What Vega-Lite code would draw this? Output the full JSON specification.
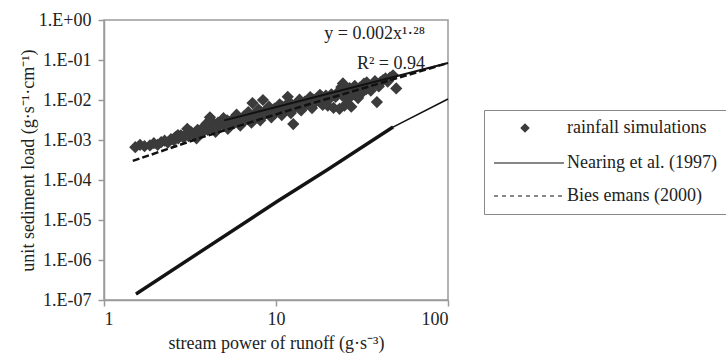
{
  "$schema": "https://vega.github.io/schema/vega-lite/v6.json",
  "width": 344,
  "height": 280,
  "autosize": "none",
  "padding": {"left": 104, "top": 20, "right": 278, "bottom": 56},
  "background": "white",
  "title": {
    "text": "y = 0.002x¹·²⁸",
    "subtitle": "R² = 0.94\u00a0\u00a0\u00a0\u00a0",
    "anchor": "end",
    "frame": "group",
    "orient": "top",
    "offset": -62,
    "dx": -23,
    "font": "Liberation Serif",
    "fontSize": 18,
    "fontWeight": "normal",
    "color": "#222222",
    "subtitleFont": "Liberation Serif",
    "subtitleFontSize": 18,
    "subtitleColor": "#222222",
    "subtitlePadding": 12
  },
  "config": {
    "font": "Liberation Serif",
    "view": {"stroke": "#9a9a9a", "strokeWidth": 1.5},
    "legend": {"labelFont": "Liberation Serif", "labelFontSize": 18, "labelColor": "#222", "titleFont": "Liberation Serif"},
    "axis": {
      "grid": false,
      "domainColor": "#9a9a9a",
      "domainWidth": 1.5,
      "tickColor": "#9a9a9a",
      "tickWidth": 1.5,
      "tickSize": 6,
      "labelFont": "Liberation Serif",
      "labelFontSize": 18,
      "labelColor": "#222",
      "titleFont": "Liberation Serif",
      "titleFontSize": 18,
      "titleFontWeight": "normal",
      "titleColor": "#222"
    }
  },
  "datasets": {
    "pts": [
      {"x": 1.52, "y": 0.00066, "series": "rainfall simulations"},
      {"x": 1.62, "y": 0.00076, "series": "rainfall simulations"},
      {"x": 1.72, "y": 0.0007, "series": "rainfall simulations"},
      {"x": 1.85, "y": 0.00073, "series": "rainfall simulations"},
      {"x": 1.95, "y": 0.00083, "series": "rainfall simulations"},
      {"x": 2.05, "y": 0.00076, "series": "rainfall simulations"},
      {"x": 2.15, "y": 0.00088, "series": "rainfall simulations"},
      {"x": 2.25, "y": 0.00096, "series": "rainfall simulations"},
      {"x": 2.35, "y": 0.00086, "series": "rainfall simulations"},
      {"x": 2.45, "y": 0.00105, "series": "rainfall simulations"},
      {"x": 2.55, "y": 0.00098, "series": "rainfall simulations"},
      {"x": 2.6, "y": 0.00118, "series": "rainfall simulations"},
      {"x": 2.69, "y": 0.00133, "series": "rainfall simulations"},
      {"x": 2.7, "y": 0.0011, "series": "rainfall simulations"},
      {"x": 2.8, "y": 0.0013, "series": "rainfall simulations"},
      {"x": 2.9, "y": 0.00115, "series": "rainfall simulations"},
      {"x": 3.0, "y": 0.0014, "series": "rainfall simulations"},
      {"x": 3.05, "y": 0.0019, "series": "rainfall simulations"},
      {"x": 3.1, "y": 0.00125, "series": "rainfall simulations"},
      {"x": 3.2, "y": 0.0016, "series": "rainfall simulations"},
      {"x": 3.3, "y": 0.0014, "series": "rainfall simulations"},
      {"x": 3.4, "y": 0.00155, "series": "rainfall simulations"},
      {"x": 3.45, "y": 0.0011, "series": "rainfall simulations"},
      {"x": 3.5, "y": 0.0018, "series": "rainfall simulations"},
      {"x": 3.6, "y": 0.0015, "series": "rainfall simulations"},
      {"x": 3.7, "y": 0.0019, "series": "rainfall simulations"},
      {"x": 3.8, "y": 0.0017, "series": "rainfall simulations"},
      {"x": 3.9, "y": 0.0021, "series": "rainfall simulations"},
      {"x": 3.95, "y": 0.0026, "series": "rainfall simulations"},
      {"x": 4.0, "y": 0.0018, "series": "rainfall simulations"},
      {"x": 4.13, "y": 0.0037, "series": "rainfall simulations"},
      {"x": 4.15, "y": 0.0023, "series": "rainfall simulations"},
      {"x": 4.25, "y": 0.0028, "series": "rainfall simulations"},
      {"x": 4.3, "y": 0.0019, "series": "rainfall simulations"},
      {"x": 4.4, "y": 0.0025, "series": "rainfall simulations"},
      {"x": 4.45, "y": 0.0016, "series": "rainfall simulations"},
      {"x": 4.5, "y": 0.0021, "series": "rainfall simulations"},
      {"x": 4.6, "y": 0.0027, "series": "rainfall simulations"},
      {"x": 4.7, "y": 0.0023, "series": "rainfall simulations"},
      {"x": 4.8, "y": 0.0029, "series": "rainfall simulations"},
      {"x": 4.9, "y": 0.0025, "series": "rainfall simulations"},
      {"x": 4.95, "y": 0.0035, "series": "rainfall simulations"},
      {"x": 5.0, "y": 0.0027, "series": "rainfall simulations"},
      {"x": 5.2, "y": 0.0031, "series": "rainfall simulations"},
      {"x": 5.25, "y": 0.0019, "series": "rainfall simulations"},
      {"x": 5.3, "y": 0.0024, "series": "rainfall simulations"},
      {"x": 5.4, "y": 0.0028, "series": "rainfall simulations"},
      {"x": 5.6, "y": 0.0033, "series": "rainfall simulations"},
      {"x": 5.7, "y": 0.0026, "series": "rainfall simulations"},
      {"x": 5.8, "y": 0.0031, "series": "rainfall simulations"},
      {"x": 5.9, "y": 0.0043, "series": "rainfall simulations"},
      {"x": 6.0, "y": 0.0035, "series": "rainfall simulations"},
      {"x": 6.1, "y": 0.0028, "series": "rainfall simulations"},
      {"x": 6.2, "y": 0.0023, "series": "rainfall simulations"},
      {"x": 6.3, "y": 0.0033, "series": "rainfall simulations"},
      {"x": 6.5, "y": 0.0039, "series": "rainfall simulations"},
      {"x": 6.6, "y": 0.0031, "series": "rainfall simulations"},
      {"x": 6.8, "y": 0.0037, "series": "rainfall simulations"},
      {"x": 6.9, "y": 0.005, "series": "rainfall simulations"},
      {"x": 7.0, "y": 0.0043, "series": "rainfall simulations"},
      {"x": 7.1, "y": 0.0034, "series": "rainfall simulations"},
      {"x": 7.2, "y": 0.0027, "series": "rainfall simulations"},
      {"x": 7.3, "y": 0.0084, "series": "rainfall simulations"},
      {"x": 7.4, "y": 0.004, "series": "rainfall simulations"},
      {"x": 7.6, "y": 0.0046, "series": "rainfall simulations"},
      {"x": 7.8, "y": 0.0037, "series": "rainfall simulations"},
      {"x": 7.9, "y": 0.0058, "series": "rainfall simulations"},
      {"x": 8.0, "y": 0.0044, "series": "rainfall simulations"},
      {"x": 8.1, "y": 0.0031, "series": "rainfall simulations"},
      {"x": 8.2, "y": 0.005, "series": "rainfall simulations"},
      {"x": 8.4, "y": 0.01, "series": "rainfall simulations"},
      {"x": 8.5, "y": 0.0042, "series": "rainfall simulations"},
      {"x": 8.7, "y": 0.0054, "series": "rainfall simulations"},
      {"x": 9.0, "y": 0.0047, "series": "rainfall simulations"},
      {"x": 9.1, "y": 0.0068, "series": "rainfall simulations"},
      {"x": 9.2, "y": 0.0058, "series": "rainfall simulations"},
      {"x": 9.4, "y": 0.0037, "series": "rainfall simulations"},
      {"x": 9.5, "y": 0.0051, "series": "rainfall simulations"},
      {"x": 9.8, "y": 0.0061, "series": "rainfall simulations"},
      {"x": 10.0, "y": 0.0049, "series": "rainfall simulations"},
      {"x": 10.3, "y": 0.0064, "series": "rainfall simulations"},
      {"x": 10.5, "y": 0.0078, "series": "rainfall simulations"},
      {"x": 10.6, "y": 0.0055, "series": "rainfall simulations"},
      {"x": 10.8, "y": 0.0042, "series": "rainfall simulations"},
      {"x": 10.9, "y": 0.0068, "series": "rainfall simulations"},
      {"x": 11.2, "y": 0.0059, "series": "rainfall simulations"},
      {"x": 11.5, "y": 0.0073, "series": "rainfall simulations"},
      {"x": 11.7, "y": 0.012, "series": "rainfall simulations"},
      {"x": 11.9, "y": 0.0088, "series": "rainfall simulations"},
      {"x": 12.0, "y": 0.0063, "series": "rainfall simulations"},
      {"x": 12.2, "y": 0.0047, "series": "rainfall simulations"},
      {"x": 12.3, "y": 0.0078, "series": "rainfall simulations"},
      {"x": 12.6, "y": 0.0025, "series": "rainfall simulations"},
      {"x": 12.9, "y": 0.0067, "series": "rainfall simulations"},
      {"x": 13.2, "y": 0.0082, "series": "rainfall simulations"},
      {"x": 13.5, "y": 0.007, "series": "rainfall simulations"},
      {"x": 13.7, "y": 0.0102, "series": "rainfall simulations"},
      {"x": 13.9, "y": 0.0087, "series": "rainfall simulations"},
      {"x": 14.0, "y": 0.0055, "series": "rainfall simulations"},
      {"x": 14.3, "y": 0.0074, "series": "rainfall simulations"},
      {"x": 14.7, "y": 0.0091, "series": "rainfall simulations"},
      {"x": 15.1, "y": 0.0079, "series": "rainfall simulations"},
      {"x": 15.5, "y": 0.0097, "series": "rainfall simulations"},
      {"x": 15.8, "y": 0.0118, "series": "rainfall simulations"},
      {"x": 16.0, "y": 0.0084, "series": "rainfall simulations"},
      {"x": 16.2, "y": 0.0063, "series": "rainfall simulations"},
      {"x": 16.4, "y": 0.0104, "series": "rainfall simulations"},
      {"x": 16.9, "y": 0.0088, "series": "rainfall simulations"},
      {"x": 17.4, "y": 0.0111, "series": "rainfall simulations"},
      {"x": 17.9, "y": 0.0093, "series": "rainfall simulations"},
      {"x": 18.0, "y": 0.0135, "series": "rainfall simulations"},
      {"x": 18.4, "y": 0.0119, "series": "rainfall simulations"},
      {"x": 18.7, "y": 0.0075, "series": "rainfall simulations"},
      {"x": 19.0, "y": 0.0099, "series": "rainfall simulations"},
      {"x": 19.5, "y": 0.0129, "series": "rainfall simulations"},
      {"x": 20.0, "y": 0.0072, "series": "rainfall simulations"},
      {"x": 20.5, "y": 0.0109, "series": "rainfall simulations"},
      {"x": 21.0, "y": 0.0139, "series": "rainfall simulations"},
      {"x": 21.6, "y": 0.0064, "series": "rainfall simulations"},
      {"x": 22.2, "y": 0.0119, "series": "rainfall simulations"},
      {"x": 22.8, "y": 0.0154, "series": "rainfall simulations"},
      {"x": 23.4, "y": 0.006, "series": "rainfall simulations"},
      {"x": 24.0, "y": 0.021, "series": "rainfall simulations"},
      {"x": 24.3, "y": 0.0129, "series": "rainfall simulations"},
      {"x": 24.5, "y": 0.026, "series": "rainfall simulations"},
      {"x": 25.0, "y": 0.0072, "series": "rainfall simulations"},
      {"x": 25.6, "y": 0.0168, "series": "rainfall simulations"},
      {"x": 26.2, "y": 0.0105, "series": "rainfall simulations"},
      {"x": 26.8, "y": 0.0198, "series": "rainfall simulations"},
      {"x": 27.4, "y": 0.0068, "series": "rainfall simulations"},
      {"x": 28.0, "y": 0.0139, "series": "rainfall simulations"},
      {"x": 28.7, "y": 0.0225, "series": "rainfall simulations"},
      {"x": 29.4, "y": 0.0168, "series": "rainfall simulations"},
      {"x": 30.0, "y": 0.0112, "series": "rainfall simulations"},
      {"x": 30.8, "y": 0.0208, "series": "rainfall simulations"},
      {"x": 31.6, "y": 0.0152, "series": "rainfall simulations"},
      {"x": 32.5, "y": 0.0255, "series": "rainfall simulations"},
      {"x": 33.5, "y": 0.0188, "series": "rainfall simulations"},
      {"x": 33.7, "y": 0.0275, "series": "rainfall simulations"},
      {"x": 34.6, "y": 0.0228, "series": "rainfall simulations"},
      {"x": 35.6, "y": 0.0172, "series": "rainfall simulations"},
      {"x": 36.6, "y": 0.0248, "series": "rainfall simulations"},
      {"x": 37.6, "y": 0.0295, "series": "rainfall simulations"},
      {"x": 38.6, "y": 0.0089, "series": "rainfall simulations"},
      {"x": 39.6, "y": 0.0218, "series": "rainfall simulations"},
      {"x": 40.5, "y": 0.0278, "series": "rainfall simulations"},
      {"x": 41.9, "y": 0.0316, "series": "rainfall simulations"},
      {"x": 43.3, "y": 0.0345, "series": "rainfall simulations"},
      {"x": 44.6, "y": 0.0288, "series": "rainfall simulations"},
      {"x": 46.0, "y": 0.0365, "series": "rainfall simulations"},
      {"x": 47.9, "y": 0.0415, "series": "rainfall simulations"},
      {"x": 50.0, "y": 0.0195, "series": "rainfall simulations"}
    ],
    "nearingThick": [
      {"x": 1.535, "y": 1.41e-7},
      {"x": 10.14, "y": 2.9e-5},
      {"x": 19.8, "y": 1.78e-4},
      {"x": 47.9, "y": 2.11e-3}
    ],
    "lines": [
      {"x": 1.535, "y": 1.41e-7, "series": "Nearing et al. (1997)"},
      {"x": 10.14, "y": 2.9e-5, "series": "Nearing et al. (1997)"},
      {"x": 19.8, "y": 1.78e-4, "series": "Nearing et al. (1997)"},
      {"x": 47.9, "y": 2.11e-3, "series": "Nearing et al. (1997)"},
      {"x": 100, "y": 1.06e-2, "series": "Nearing et al. (1997)"},
      {"x": 1.47, "y": 0.0003, "series": "Bies emans (2000)"},
      {"x": 3.6, "y": 0.00112, "series": "Bies emans (2000)"},
      {"x": 13.8, "y": 0.0067, "series": "Bies emans (2000)"},
      {"x": 100, "y": 0.084, "series": "Bies emans (2000)"}
    ],
    "fit": [
      {"x": 5, "y": 0.0031},
      {"x": 100, "y": 0.084}
    ]
  },
  "layer": [
    {
      "data": {"name": "lines"},
      "mark": {"type": "line", "opacity": 0, "color": "#111111"},
      "encoding": {
        "x": {
          "field": "x",
          "type": "quantitative",
          "scale": {"type": "log", "domain": [1, 100]},
          "axis": {
            "values": [1, 10, 100],
            "format": "~g",
            "labelPadding": 4,
            "title": "stream power of runoff (g·s⁻³)",
            "titlePadding": 6
          }
        },
        "y": {
          "field": "y",
          "type": "quantitative",
          "scale": {"type": "log", "domain": [1e-7, 1]},
          "axis": {
            "values": [1e-7, 1e-6, 1e-5, 1e-4, 1e-3, 1e-2, 1e-1, 1],
            "labelExpr": "'1.E' + (datum.value >= 1 ? '+' : '-') + '0' + abs(round(log(datum.value) / LN10))",
            "labelPadding": 7,
            "title": "unit sediment load (g·s⁻¹·cm⁻¹)",
            "titlePadding": 1
          }
        },
        "strokeDash": {
          "field": "series",
          "type": "nominal",
          "scale": {
            "domain": ["Nearing et al. (1997)", "Bies emans (2000)"],
            "range": [[1, 0], [4, 4]]
          },
          "legend": {
            "title": " ",
            "titleFontSize": 18,
            "titlePadding": 17,
            "orient": "none",
            "legendX": 380,
            "legendY": 90,
            "padding": 9,
            "strokeColor": "#888888",
            "fillColor": "white",
            "labelFont": "Liberation Serif",
            "labelFontSize": 18,
            "labelColor": "#222",
            "labelLimit": 300,
            "labelOffset": 2,
            "rowPadding": 15,
            "clipHeight": 18,
            "symbolType": "stroke",
            "symbolSize": 4900,
            "symbolStrokeColor": "#111111",
            "symbolStrokeWidth": 1.2,
            "symbolOpacity": 1
          }
        }
      }
    },
    {
      "data": {"name": "pts"},
      "mark": {"type": "point", "filled": true, "size": 150, "color": "#3b3b3b", "opacity": 1},
      "encoding": {
        "x": {"field": "x", "type": "quantitative", "scale": {"type": "log", "domain": [1, 100]}},
        "y": {"field": "y", "type": "quantitative", "scale": {"type": "log", "domain": [1e-7, 1]}},
        "shape": {
          "field": "series",
          "type": "nominal",
          "scale": {"domain": ["rainfall simulations"], "range": ["diamond"]},
          "legend": {
            "title": null,
            "orient": "none",
            "legendX": 389,
            "legendY": 99,
            "padding": 0,
            "labelFont": "Liberation Serif",
            "labelFontSize": 18,
            "labelColor": "#222",
            "labelLimit": 300,
            "labelOffset": 33,
            "symbolOffset": 23,
            "symbolSize": 90,
            "symbolFillColor": "#111111",
            "symbolStrokeWidth": 0
          }
        }
      }
    },
    {
      "data": {"name": "nearingThick"},
      "mark": {"type": "line", "color": "#1a1a1a", "strokeWidth": 3.5},
      "encoding": {
        "x": {"field": "x", "type": "quantitative", "scale": {"type": "log", "domain": [1, 100]}},
        "y": {"field": "y", "type": "quantitative", "scale": {"type": "log", "domain": [1e-7, 1]}}
      }
    },
    {
      "data": {"name": "lines"},
      "transform": [{"filter": "datum.series === 'Nearing et al. (1997)'"}],
      "mark": {"type": "line", "color": "#111111", "strokeWidth": 1.5},
      "encoding": {
        "x": {"field": "x", "type": "quantitative", "scale": {"type": "log", "domain": [1, 100]}},
        "y": {"field": "y", "type": "quantitative", "scale": {"type": "log", "domain": [1e-7, 1]}}
      }
    },
    {
      "data": {"name": "fit"},
      "mark": {"type": "line", "color": "#111111", "strokeWidth": 2},
      "encoding": {
        "x": {"field": "x", "type": "quantitative", "scale": {"type": "log", "domain": [1, 100]}},
        "y": {"field": "y", "type": "quantitative", "scale": {"type": "log", "domain": [1e-7, 1]}}
      }
    },
    {
      "data": {"name": "lines"},
      "transform": [{"filter": "datum.series === 'Bies emans (2000)'"}],
      "mark": {"type": "line", "color": "#111111", "strokeWidth": 2.5, "strokeDash": [7, 3]},
      "encoding": {
        "x": {"field": "x", "type": "quantitative", "scale": {"type": "log", "domain": [1, 100]}},
        "y": {"field": "y", "type": "quantitative", "scale": {"type": "log", "domain": [1e-7, 1]}}
      }
    }
  ]
}
